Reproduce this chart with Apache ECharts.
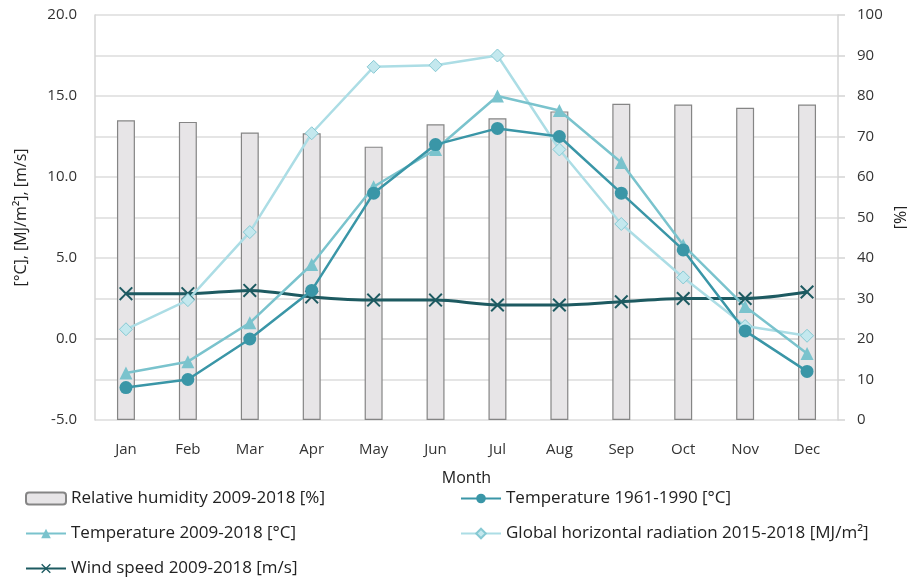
<!DOCTYPE html>
<html>
<head>
<meta charset="utf-8">
<script src="https://cdn.jsdelivr.net/npm/echarts@6/dist/echarts.min.js"></script>
<style>
  html, body { margin: 0; padding: 0; background: #fff; }
  #chart { width: 907px; height: 581px; }
</style>
</head>
<body>
<div id="chart"></div>
<script>
// Monthly climate overview
const months = ['Jan', 'Feb', 'Mar', 'Apr', 'May', 'Jun', 'Jul', 'Aug', 'Sep', 'Oct', 'Nov', 'Dec'];
const humidity = [74.0, 73.6, 71.0, 70.8, 67.5, 73.0, 74.5, 76.2, 78.1, 77.9, 77.1, 77.9];
const temp6190 = [-3.0, -2.5, 0.0, 3.0, 9.0, 12.0, 13.0, 12.5, 9.0, 5.5, 0.5, -2.0];
const temp0918 = [-2.1, -1.4, 1.0, 4.6, 9.4, 11.7, 15.0, 14.1, 10.9, 5.8, 2.0, -0.9];
const radiation = [0.6, 2.4, 6.6, 12.7, 16.8, 16.9, 17.5, 11.7, 7.1, 3.8, 0.8, 0.2];
const wind = [2.8, 2.8, 3.0, 2.6, 2.4, 2.4, 2.1, 2.1, 2.3, 2.5, 2.5, 2.9];

const names = {
  hum: 'Relative humidity 2009-2018 [%]',
  t61: 'Temperature 1961-1990 [°C]',
  t09: 'Temperature 2009-2018 [°C]',
  rad: 'Global horizontal radiation 2015-2018 [MJ/m²]',
  wind: 'Wind speed 2009-2018 [m/s]'
};

const FONT = '"Open Sans", "Noto Sans", sans-serif';
const crossPath = 'path://M0,1 L1,0 L5,4 L9,0 L10,1 L6,5 L10,9 L9,10 L5,6 L1,10 L0,9 L4,5 Z';

function legendAt(name, left, top) {
  return {
    data: [name], left: left, top: top, orient: 'horizontal', padding: 0,
    itemWidth: 40, itemHeight: 12, selectedMode: false,
    textStyle: { fontFamily: FONT, fontSize: 17, color: '#222' }
  };
}

const chart = echarts.init(document.getElementById('chart'), null, { renderer: 'canvas' });
chart.setOption({
  animation: false,
  backgroundColor: '#fff',
  grid: { left: 95, right: 69, top: 15, bottom: 161, containLabel: false, outerBoundsMode: 'none' },
  legend: [
    legendAt(names.hum, 25, 490),
    legendAt(names.t61, 460, 490),
    legendAt(names.t09, 25, 525),
    legendAt(names.rad, 460, 525),
    legendAt(names.wind, 25, 560)
  ],
  xAxis: {
    type: 'category', data: months, boundaryGap: true,
    name: 'Month', nameLocation: 'middle', nameGap: 50,
    nameTextStyle: { fontFamily: FONT, fontSize: 16, color: '#222' },
    axisLine: { show: true, lineStyle: { color: '#d4d4d4', width: 1.5 } },
    axisTick: { show: false },
    axisLabel: { fontFamily: FONT, fontSize: 15, color: '#333', margin: 22 }
  },
  yAxis: [
    {
      type: 'value', min: -5, max: 20, interval: 5, position: 'left',
      name: '[°C], [MJ/m²], [m/s]', nameLocation: 'middle', nameGap: 66, nameRotate: 90,
      nameTextStyle: { fontFamily: FONT, fontSize: 16, color: '#222' },
      axisLine: { show: true, lineStyle: { color: '#d4d4d4', width: 1.5 } },
      axisTick: { show: false },
      splitLine: { show: false },
      axisLabel: { fontFamily: FONT, fontSize: 15, color: '#333', margin: 18,
        formatter: v => v.toFixed(1) }
    },
    {
      type: 'value', min: 0, max: 100, interval: 10, position: 'right',
      name: '[%]', nameLocation: 'middle', nameGap: 51, nameRotate: 90,
      nameTextStyle: { fontFamily: FONT, fontSize: 16, color: '#222' },
      axisLine: { show: true, lineStyle: { color: '#d4d4d4', width: 1.5 } },
      axisTick: { show: true, length: 7, lineStyle: { color: '#d4d4d4', width: 1.5 } },
      splitLine: { show: true, lineStyle: { color: '#dcdcdc', width: 1.5 } },
      axisLabel: { fontFamily: FONT, fontSize: 15, color: '#333', margin: 19 }
    }
  ],
  series: [
    {
      name: names.hum, type: 'bar', yAxisIndex: 1, data: humidity,
      barWidth: '29%',
      itemStyle: { color: '#e7e5e7', borderColor: '#858585', borderWidth: 1.2 }
    },
    {
      name: names.wind, type: 'line', yAxisIndex: 0, data: wind, smooth: 0.3,
      symbol: crossPath, symbolSize: 14,
      lineStyle: { color: '#1d5a61', width: 3 },
      itemStyle: { color: '#1d5a61' }
    },
    {
      name: names.rad, type: 'line', yAxisIndex: 0, data: radiation,
      symbol: 'diamond', symbolSize: 13,
      lineStyle: { color: '#acdde5', width: 2.5 },
      itemStyle: { color: '#c4e8ee', borderColor: '#86c9d3', borderWidth: 1 }
    },
    {
      name: names.t09, type: 'line', yAxisIndex: 0, data: temp0918,
      symbol: 'triangle', symbolSize: 13,
      lineStyle: { color: '#7ac3cd', width: 2.5 },
      itemStyle: { color: '#7ac3cd' }
    },
    {
      name: names.t61, type: 'line', yAxisIndex: 0, data: temp6190,
      symbol: 'circle', symbolSize: 13,
      lineStyle: { color: '#3a96a7', width: 2.5 },
      itemStyle: { color: '#3a96a7' }
    }
  ]
});
</script>
</body>
</html>
